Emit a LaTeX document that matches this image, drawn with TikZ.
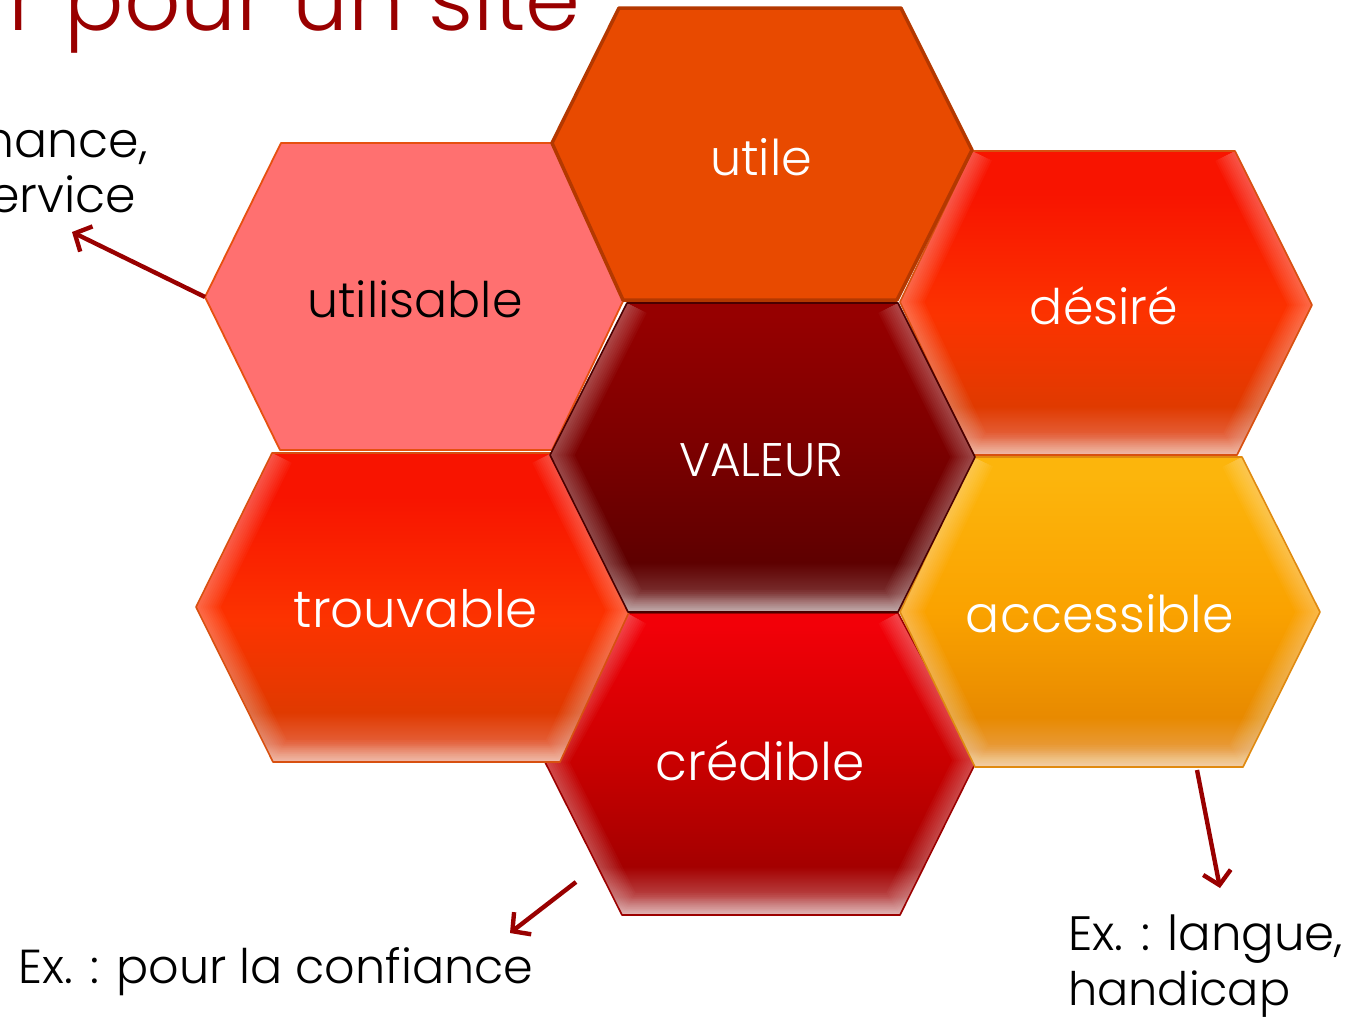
\documentclass[tikz,border=0pt]{standalone}
\usepackage{fontspec}
\setmainfont{Poppins}[UprightFont={* Light}]
\usepackage{graphicx}
\usetikzlibrary{arrows.meta}

\definecolor{titlered}{HTML}{990000}
\definecolor{utileF}{HTML}{E84A00}
\definecolor{utileB}{HTML}{B43800}
\definecolor{utilisF}{HTML}{FF7070}
\definecolor{utilisB}{HTML}{E65010}
\definecolor{redB}{HTML}{D85010}
\definecolor{accB}{HTML}{E08A10}
\definecolor{credB}{HTML}{9C0000}
\definecolor{valB}{HTML}{4A0000}

% red-orange (desire, trouvable)
\definecolor{dA}{HTML}{F0A68C}
\definecolor{dB}{HTML}{E4603A}
\definecolor{dC}{HTML}{E03A00}
\definecolor{dD}{HTML}{FC3300}
\definecolor{dE}{HTML}{F81400}
\pgfdeclareverticalshading{shRed}{100bp}{color(0bp)=(dA); color(25bp)=(dA); color(28bp)=(dB); color(33bp)=(dC); color(48bp)=(dD); color(68bp)=(dE); color(100bp)=(dE)}
% orange (accessible)
\definecolor{aA}{HTML}{F3C68A}
\definecolor{aB}{HTML}{E89A3A}
\definecolor{aC}{HTML}{E88A00}
\definecolor{aD}{HTML}{FAA200}
\definecolor{aE}{HTML}{FCB50C}
\pgfdeclareverticalshading{shOrange}{100bp}{color(0bp)=(aA); color(25bp)=(aA); color(28bp)=(aB); color(33bp)=(aC); color(50bp)=(aD); color(72bp)=(aE); color(100bp)=(aE)}
% red (credible)
\definecolor{cA}{HTML}{D8A0A0}
\definecolor{cB}{HTML}{B84444}
\definecolor{cC}{HTML}{A40000}
\definecolor{cD}{HTML}{C80000}
\definecolor{cE}{HTML}{F20008}
\pgfdeclareverticalshading{shCred}{100bp}{color(0bp)=(cA); color(25bp)=(cA); color(28bp)=(cB); color(33bp)=(cC); color(50bp)=(cD); color(73bp)=(cE); color(100bp)=(cE)}
% dark red (valeur)
\definecolor{vA}{HTML}{B09090}
\definecolor{vB}{HTML}{7A3030}
\definecolor{vC}{HTML}{5E0000}
\definecolor{vD}{HTML}{7C0000}
\definecolor{vE}{HTML}{960000}
\pgfdeclareverticalshading{shVal}{100bp}{color(0bp)=(vA); color(25bp)=(vA); color(28bp)=(vB); color(33bp)=(vC); color(52bp)=(vD); color(73bp)=(vE); color(100bp)=(vE)}

\tikzset{
  lbl/.style={inner sep=0pt, text=white},
  note/.style={inner sep=0pt, text=black},
  arr/.style={draw=titlered, line width=4.4pt, -{Straight Barb[length=13pt,width=28pt]}},
}

% #1 shading, #2 border colour, #3..#8 = TL, TR, R, BR, BL, L
\newcommand\glowhex[8]{%
  \shade[shading=#1] #3--#4--#5--#6--#7--#8--cycle;
  \begin{scope}
    \clip #3--#4--#5--#6--#7--#8--cycle;
    \foreach \w in {4,8,...,44}{\draw[white,opacity=0.03,line width=\w pt,line join=round] #3--#8--#7--#6--#5--#4;}
  \end{scope}
  \draw[#2,line width=1.6pt,line join=round] #3--#4--#5--#6--#7--#8--cycle;
}

\begin{document}
\begin{tikzpicture}[x=1pt,y=-1pt]
\useasboundingbox (0,0) rectangle (1360,1017);
\clip (0,0) rectangle (1360,1017);

% credible
\glowhex{shCred}{credB}{(627,613)}{(898,613)}{(977,760)}{(900,915)}{(622,915)}{(545,762)}
% accessible
\glowhex{shOrange}{accB}{(973,457)}{(1242,457)}{(1320,612)}{(1243,767)}{(975,767)}{(900,612)}
% desire
\glowhex{shRed}{redB}{(972,151)}{(1235,151)}{(1312,305)}{(1237,455)}{(972,455)}{(900,302)}
% trouvable
\glowhex{shRed}{redB}{(272,453)}{(552,453)}{(630,610)}{(560,762)}{(273,762)}{(196,607)}
% utilisable
\draw[fill=utilisF, draw=utilisB, line width=1.8pt, line join=round]
  (281,143)--(552,143)--(625,297)--(552,450)--(280,450)--(205,297)--cycle;
\coordinate (utilisL) at (205,297);
% utile
\draw[fill=utileF, draw=utileB, line width=3.5pt, line join=round]
  (619,8)--(901,8)--(972,150)--(897,300)--(623,300)--(552,143)--cycle;
% valeur
\glowhex{shVal}{valB}{(627,303)}{(898,303)}{(975,457)}{(898,612)}{(628,612)}{(550,455)}

% labels
\node[lbl] (utile) at (761,157) {\resizebox{102pt}{!}{utile}};
\node[note] (utilisable) at (415,299) {\resizebox{215pt}{!}{utilisable}};
\node[lbl] (desire) at (1104,306) {\resizebox{148pt}{!}{désiré}};
\node[lbl] (valeur) at (761,460) {\resizebox{164pt}{!}{VALEUR}};
\node[lbl] (trouvable) at (416,609) {\resizebox{244pt}{!}{trouvable}};
\node[lbl] (accessible) at (1100,614) {\resizebox{268pt}{!}{accessible}};
\node[lbl] (credible) at (760,761) {\resizebox{209pt}{!}{crédible}};

% title (cropped at the top)
\node[inner sep=0pt, text=titlered, anchor=base west] (title) at (8,30) {\resizebox{572pt}{!}{r pour un site}};

% annotations
\node[note, anchor=base east] (nance) at (148,157) {\fontsize{49}{55}\selectfont nance,};
\node[note, anchor=base east] (ervice) at (136,212) {\fontsize{49}{55}\selectfont ervice};
\node[note, anchor=base west] (confiance) at (18,983) {\resizebox{515pt}{!}{Ex. : pour la confiance}};
\node[note, anchor=base west] (langue) at (1068,950) {\resizebox{275pt}{!}{Ex. : langue,}};
\node[note, anchor=base west] (handicap) at (1068,1005) {\resizebox{222pt}{!}{handicap}};

% connectors
\coordinate (a1e) at (72,232);
\coordinate (a2s) at (576,882);
\coordinate (a2e) at (510,933);
\coordinate (a3s) at (1197,770);
\coordinate (a3e) at (1220,888);
\draw[arr] (utilisL) -- (a1e);
\draw[arr] (a2s) -- (a2e);
\draw[arr] (a3s) -- (a3e);
\end{tikzpicture}
\end{document}
